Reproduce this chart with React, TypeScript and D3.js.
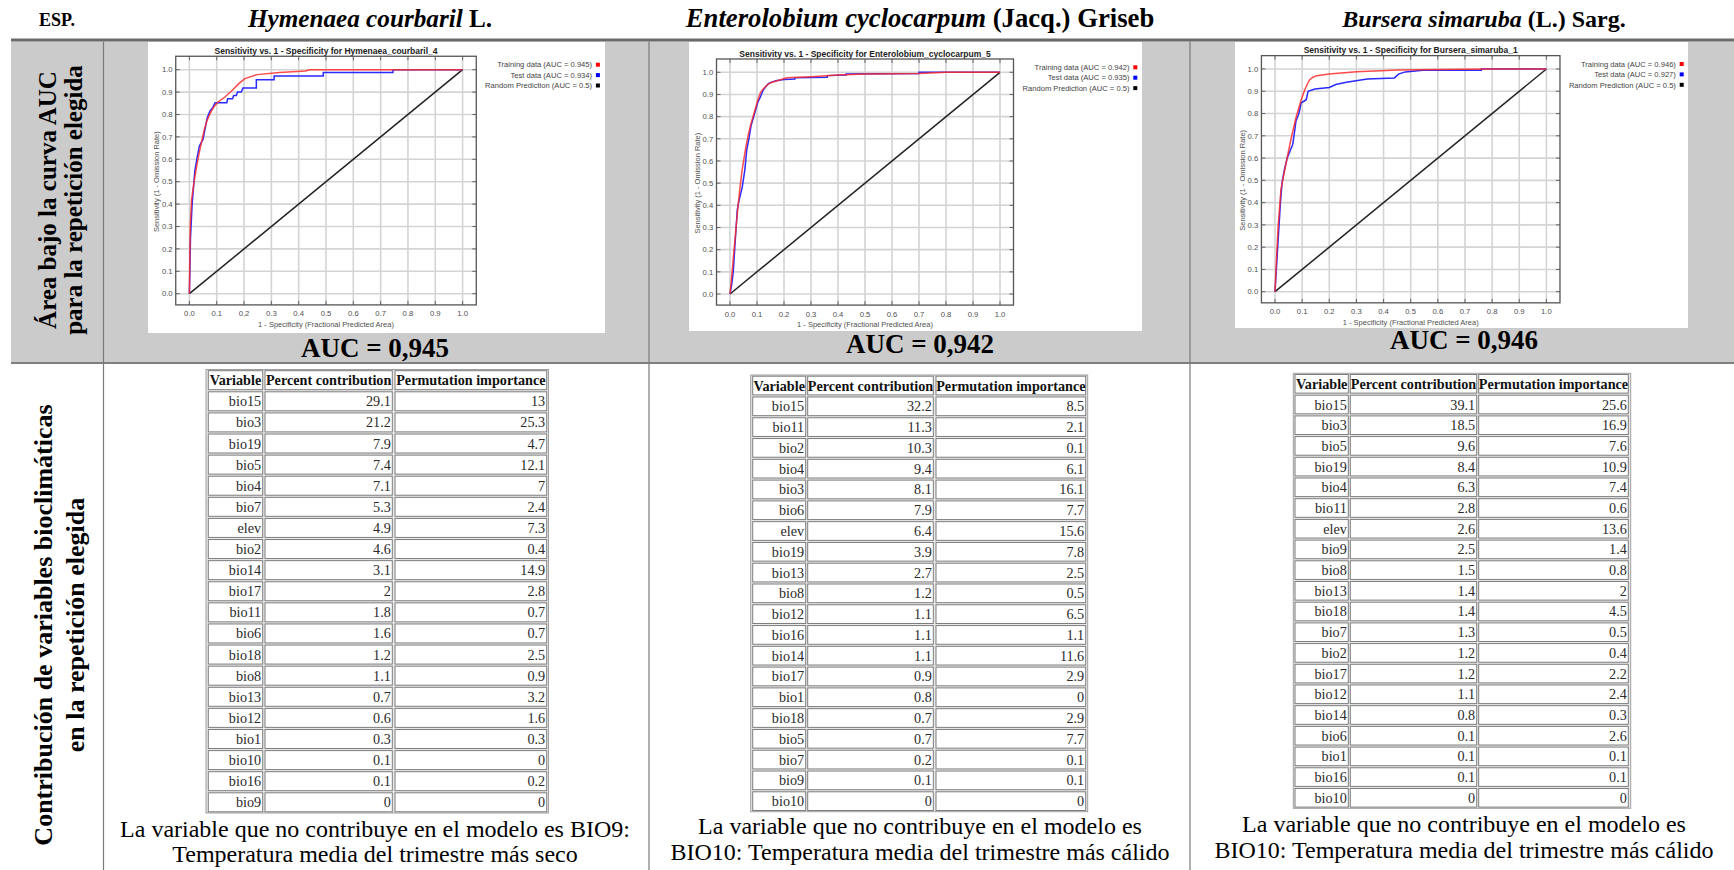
import React from "react";
import * as d3 from "d3";

const SERIF = "'Liberation Serif', 'Times New Roman', serif";
const SANS = "'Liberation Sans', Arial, sans-serif";

// column headers
const speciesItalic = ["Hymenaea courbaril", "Enterolobium cyclocarpum", "Bursera simaruba"];
const speciesAuthor = [" L.", " (Jacq.) Griseb", " (L.) Sarg."];
const runNames = ["Hymenaea_courbaril_4", "Enterolobium_cyclocarpum_5", "Bursera_simaruba_1"];
const trainAuc = ["0.945", "0.942", "0.946"];
const testAuc = ["0.934", "0.935", "0.927"];
const aucLabels = ["AUC = 0,945", "AUC = 0,942", "AUC = 0,946"];
const rowLabels = [
  ["Área bajo la curva AUC", "para la repetición elegida"],
  ["Contribución de variables bioclimáticas", "en la repetición elegida"],
];
const tableHeader = ["Variable", "Percent contribution", "Permutation importance"];

// ROC points: [1 - specificity, sensitivity]
const hymTrain: [number, number][] = [
  [0, 0], [0.003, 0.3], [0.008, 0.42], [0.016, 0.49], [0.026, 0.565], [0.036, 0.63], [0.046, 0.685],
  [0.056, 0.74], [0.065, 0.774], [0.078, 0.81], [0.09, 0.835], [0.105, 0.856], [0.13, 0.878],
  [0.157, 0.908], [0.183, 0.94], [0.203, 0.96], [0.248, 0.978], [0.33, 0.987], [0.425, 0.994],
  [0.44, 1], [1, 1],
];
const hymTest: [number, number][] = [
  [0, 0], [0.004, 0.25], [0.01, 0.4], [0.02, 0.55], [0.03, 0.62], [0.037, 0.66], [0.05, 0.69],
  [0.058, 0.74], [0.065, 0.785], [0.075, 0.815], [0.085, 0.83], [0.094, 0.853], [0.137, 0.853],
  [0.14, 0.87], [0.158, 0.87], [0.162, 0.885], [0.172, 0.885], [0.176, 0.9], [0.19, 0.9],
  [0.196, 0.918], [0.245, 0.918], [0.245, 0.955], [0.31, 0.955], [0.31, 0.972], [0.49, 0.972],
  [0.49, 0.987], [0.745, 0.987], [0.745, 1], [1, 1],
];
const entTrain: [number, number][] = [
  [0, 0], [0.008, 0.1], [0.015, 0.2], [0.024, 0.32], [0.03, 0.4], [0.037, 0.48], [0.045, 0.56],
  [0.057, 0.65], [0.068, 0.72], [0.077, 0.765], [0.09, 0.82], [0.103, 0.875], [0.113, 0.91],
  [0.123, 0.925], [0.135, 0.94], [0.15, 0.953], [0.175, 0.962], [0.21, 0.975], [0.3, 0.98],
  [0.4, 0.988], [0.5, 0.992], [0.7, 0.995], [0.8, 1], [1, 1],
];
const entTest: [number, number][] = [
  [0, 0], [0.006, 0.04], [0.012, 0.1], [0.02, 0.25], [0.027, 0.38], [0.033, 0.42], [0.045, 0.48],
  [0.055, 0.56], [0.062, 0.65], [0.07, 0.7], [0.078, 0.76], [0.09, 0.81], [0.103, 0.865],
  [0.113, 0.89], [0.123, 0.92], [0.143, 0.95], [0.17, 0.962], [0.2, 0.968], [0.24, 0.97],
  [0.24, 0.975], [0.36, 0.978], [0.36, 0.985], [0.43, 0.988], [0.43, 0.992], [0.7, 0.995],
  [0.7, 1], [1, 1],
];
const burTrain: [number, number][] = [
  [0, 0], [0.003, 0.08], [0.006, 0.16], [0.012, 0.3], [0.022, 0.46], [0.038, 0.56], [0.058, 0.68],
  [0.077, 0.78], [0.096, 0.86], [0.109, 0.905], [0.12, 0.935], [0.128, 0.952], [0.14, 0.963],
  [0.154, 0.97], [0.2, 0.978], [0.3, 0.988], [0.455, 0.996], [0.6, 0.998], [0.8, 1], [1, 1],
];
const burTest: [number, number][] = [
  [0, 0], [0.004, 0.08], [0.008, 0.16], [0.013, 0.26], [0.02, 0.4], [0.026, 0.49], [0.035, 0.55],
  [0.045, 0.6], [0.058, 0.64], [0.065, 0.66], [0.07, 0.7], [0.077, 0.765], [0.085, 0.79],
  [0.09, 0.81], [0.096, 0.847], [0.115, 0.862], [0.122, 0.9], [0.147, 0.91], [0.2, 0.917],
  [0.224, 0.93], [0.263, 0.94], [0.34, 0.955], [0.44, 0.96], [0.455, 0.977], [0.48, 0.987],
  [0.545, 0.994], [0.76, 0.994], [0.76, 1], [1, 1],
];

// variable contributions
const hymVars = ["bio15", "bio3", "bio19", "bio5", "bio4", "bio7", "elev", "bio2", "bio14", "bio17", "bio11", "bio6", "bio18", "bio8", "bio13", "bio12", "bio1", "bio10", "bio16", "bio9"];
const hymPct = [29.1, 21.2, 7.9, 7.4, 7.1, 5.3, 4.9, 4.6, 3.1, 2, 1.8, 1.6, 1.2, 1.1, 0.7, 0.6, 0.3, 0.1, 0.1, 0];
const hymPerm = [13, 25.3, 4.7, 12.1, 7, 2.4, 7.3, 0.4, 14.9, 2.8, 0.7, 0.7, 2.5, 0.9, 3.2, 1.6, 0.3, 0, 0.2, 0];

const entVars = ["bio15", "bio11", "bio2", "bio4", "bio3", "bio6", "elev", "bio19", "bio13", "bio8", "bio12", "bio16", "bio14", "bio17", "bio1", "bio18", "bio5", "bio7", "bio9", "bio10"];
const entPct = [32.2, 11.3, 10.3, 9.4, 8.1, 7.9, 6.4, 3.9, 2.7, 1.2, 1.1, 1.1, 1.1, 0.9, 0.8, 0.7, 0.7, 0.2, 0.1, 0];
const entPerm = [8.5, 2.1, 0.1, 6.1, 16.1, 7.7, 15.6, 7.8, 2.5, 0.5, 6.5, 1.1, 11.6, 2.9, 0, 2.9, 7.7, 0.1, 0.1, 0];

const burVars = ["bio15", "bio3", "bio5", "bio19", "bio4", "bio11", "elev", "bio9", "bio8", "bio13", "bio18", "bio7", "bio2", "bio17", "bio12", "bio14", "bio6", "bio1", "bio16", "bio10"];
const burPct = [39.1, 18.5, 9.6, 8.4, 6.3, 2.8, 2.6, 2.5, 1.5, 1.4, 1.4, 1.3, 1.2, 1.2, 1.1, 0.8, 0.1, 0.1, 0.1, 0];
const burPerm = [25.6, 16.9, 7.6, 10.9, 7.4, 0.6, 13.6, 1.4, 0.8, 2, 4.5, 0.5, 0.4, 2.2, 2.4, 0.3, 2.6, 0.1, 0.1, 0];

const notes = [
  ["La variable que no contribuye en el modelo es BIO9:", "Temperatura media del trimestre más seco"],
  ["La variable que no contribuye en el modelo es", "BIO10: Temperatura media del trimestre más cálido"],
  ["La variable que no contribuye en el modelo es", "BIO10: Temperatura media del trimestre más cálido"],
];

const curves = [[hymTrain, hymTest], [entTrain, entTest], [burTrain, burTest]];
const tables = [[hymVars, hymPct, hymPerm], [entVars, entPct, entPerm], [burVars, burPct, burPerm]];

// page layout (pixels)
const W = 1734;
const H = 870;
const ruleX = [103.5, 649, 1190];
const panels = [
  {
    cx: 375, titleX: 370, titleSize: 25.2, img: [148, 42, 457, 291], xr: [189.4, 462.6], yr: [293.7, 69.7], aucY: 357,
    tb: { l: 206, t: 369.5, r: 548.5, b: 813, edges: [208.3, 262.7, 265, 392.3, 395, 546.7] }, noteY: 836.5,
  },
  {
    cx: 920, titleX: 920, titleSize: 26.7, img: [689, 42, 453, 289], xr: [730, 1000], yr: [294, 72.3], aucY: 353,
    tb: { l: 750.7, t: 375, r: 1087.7, b: 811.7, edges: [752.7, 805.7, 807.7, 933.3, 936, 1085.7] }, noteY: 834,
  },
  {
    cx: 1464, titleX: 1484, titleSize: 24, img: [1235, 42, 453, 286], xr: [1275, 1546.4], yr: [291.7, 69], aucY: 349,
    tb: { l: 1293.3, t: 373.3, r: 1630.7, b: 808.3, edges: [1295, 1348.3, 1350.3, 1476.7, 1478.7, 1628.3] }, noteY: 832,
  },
];

function Roc({ p, train, test, name, trAuc, teAuc }: any) {
  const [ix, iy, iw, ih] = p.img;
  const x = d3.scaleLinear().domain([0, 1]).range(p.xr);
  const y = d3.scaleLinear().domain([0, 1]).range(p.yr);
  const fx0 = x(-0.05), fx1 = x(1.05), fyB = y(-0.05), fyT = y(1.06);
  const line = d3.line<[number, number]>().x(d => x(d[0])).y(d => y(d[1]));
  const ticks = x.ticks(10);
  const fmt = d3.format(".1f");
  const legend = [
    [`Training data (AUC = ${trAuc})`, "#ff0000"],
    [`Test data (AUC = ${teAuc})`, "#0000ff"],
    ["Random Prediction (AUC = 0.5)", "#000000"],
  ];
  const midY = (y(0) + y(1)) / 2;
  return (
    <g>
      <rect x={ix} y={iy} width={iw} height={ih} fill="#fff" />
      <text x={(x(0) + x(1)) / 2} y={y(1) - 15.8} textAnchor="middle" fontFamily={SANS} fontWeight="bold" fontSize={8.5} fill="#222">
        {`Sensitivity vs. 1 - Specificity for ${name}`}
      </text>
      {ticks.map(t => (
        <g key={t}>
          <line x1={x(t)} x2={x(t)} y1={fyT} y2={fyB} stroke="#d4d4d4" strokeWidth={1.6} />
          <line x1={fx0} x2={fx1} y1={y(t)} y2={y(t)} stroke="#d4d4d4" strokeWidth={1.6} />
          <line x1={x(t)} x2={x(t)} y1={fyT} y2={fyT + 4} stroke="#666" />
          <line x1={x(t)} x2={x(t)} y1={fyB} y2={fyB - 4} stroke="#666" />
          <line x1={fx0} x2={fx0 + 4} y1={y(t)} y2={y(t)} stroke="#666" />
          <line x1={fx1} x2={fx1 - 4} y1={y(t)} y2={y(t)} stroke="#666" />
          <text x={x(0) - 16.8} y={y(t) + 2.7} textAnchor="end" fontFamily={SANS} fontSize={7.7} fill="#505050">{fmt(t)}</text>
          <text x={x(t)} y={y(0) + 22.7} textAnchor="middle" fontFamily={SANS} fontSize={7.7} fill="#505050">{fmt(t)}</text>
        </g>
      ))}
      <rect x={fx0} y={fyT} width={fx1 - fx0} height={fyB - fyT} fill="none" stroke="#555" strokeWidth={1.3} />
      <text x={(x(0) + x(1)) / 2} y={y(0) + 33.3} textAnchor="middle" fontFamily={SANS} fontSize={7.5} fill="#505050">
        1 - Specificity  (Fractional Predicted Area)
      </text>
      <text transform={`translate(${x(0) - 30},${midY}) rotate(-90)`} textAnchor="middle" fontFamily={SANS} fontSize={7.5} fill="#505050">
        Sensitivity  (1 - Omission Rate)
      </text>
      <path d={line([[0, 0], [1, 1]]) as string} fill="none" stroke="#222" strokeWidth={1.5} />
      <path d={line(test) as string} fill="none" stroke="#2a2aff" strokeWidth={1.5} />
      <path d={line(train) as string} fill="none" stroke="#ff2a2a" strokeOpacity={0.85} strokeWidth={1.5} />
      {legend.map(([label, c], i) => (
        <g key={label}>
          <text x={x(1) + 129.5} y={y(1) - 2.3 + i * 10.4} textAnchor="end" fontFamily={SANS} fontSize={7.6} fill="#444">{label}</text>
          <rect x={x(1) + 133.3} y={y(1) - 7 + i * 10.4} width={4} height={4} fill={c} />
        </g>
      ))}
    </g>
  );
}

function VarTable({ tb, vars, pct, perm }: any) {
  const rows = [tableHeader, ...vars.map((v: string, i: number) => [v, String(pct[i]), String(perm[i])])];
  const band = d3.scaleBand().domain(rows.map((_: any, i: number) => String(i))).range([tb.t + 1.2, tb.b - 1.2]).paddingInner(0.1);
  const bh = band.bandwidth();
  const e = tb.edges;
  const cols = [[e[0], e[1]], [e[2], e[3]], [e[4], e[5]]];
  return (
    <g>
      <rect x={tb.l} y={tb.t} width={tb.r - tb.l} height={tb.b - tb.t} fill="#e9e9e9" stroke="#a0a0a0" strokeWidth={1} />
      {rows.map((r: string[], i: number) => (
        <g key={i}>
          {cols.map(([a, b], j) => (
            <g key={j}>
              <rect x={a} y={band(String(i))} width={b - a} height={bh} fill="#fff" stroke="#7d7d7d" strokeWidth={1} />
              <text
                x={i === 0 ? (a + b) / 2 : b - 1.5}
                y={(band(String(i)) as number) + bh / 2 + 5}
                textAnchor={i === 0 ? "middle" : "end"}
                fontFamily={SERIF}
                fontSize={14.2}
                fontWeight={i === 0 ? "bold" : "normal"}
                fill={i === 0 ? "#111" : "#2a2a2a"}
              >
                {r[j]}
              </text>
            </g>
          ))}
        </g>
      ))}
    </g>
  );
}

export default function App() {
  return (
    <svg width={W} height={H} style={{ position: "absolute", left: 0, top: 0, background: "#fff" }}>
      {/* header row */}
      <text x={57} y={25.5} textAnchor="middle" fontFamily={SERIF} fontWeight="bold" fontSize={18}>ESP.</text>
      {panels.map((p, i) => (
        <text key={i} x={p.titleX} y={27} textAnchor="middle" fontFamily={SERIF} fontWeight="bold" fontSize={p.titleSize}>
          <tspan fontStyle="italic">{speciesItalic[i]}</tspan>
          <tspan>{speciesAuthor[i]}</tspan>
        </text>
      ))}

      {/* AUC row background and rules */}
      <rect x={11} y={41.5} width={W - 11} height={321} fill="#cbcbcb" />
      <line x1={11} x2={W} y1={40} y2={40} stroke="#6a6a6a" strokeWidth={3} />
      <line x1={11} x2={W} y1={363} y2={363} stroke="#7f7f7f" strokeWidth={2} />
      {ruleX.map(rx => (
        <line key={rx} x1={rx} x2={rx} y1={41.5} y2={H} stroke="#7a7a7a" strokeWidth={1.2} />
      ))}

      {/* row labels */}
      {[200, 625].map((cy, k) => (
        <g key={k}>
          {rowLabels[k].map((s, j) => (
            <text
              key={j}
              transform={`translate(${k === 0 ? (j === 0 ? 56 : 82) : (j === 0 ? 52 : 84)},${cy}) rotate(-90)`}
              textAnchor="middle"
              fontFamily={SERIF}
              fontWeight="bold"
              fontSize={k === 0 ? 25 : 26}
            >
              {s}
            </text>
          ))}
        </g>
      ))}

      {panels.map((p, i) => (
        <g key={i}>
          <Roc p={p} train={curves[i][0]} test={curves[i][1]} name={runNames[i]} trAuc={trainAuc[i]} teAuc={testAuc[i]} />
          <text x={p.cx} y={p.aucY} textAnchor="middle" fontFamily={SERIF} fontWeight="bold" fontSize={27}>{aucLabels[i]}</text>
          <VarTable tb={p.tb} vars={tables[i][0]} pct={tables[i][1]} perm={tables[i][2]} />
          {notes[i].map((s, j) => (
            <text key={j} x={p.cx} y={p.noteY + j * 25.5} textAnchor="middle" fontFamily={SERIF} fontSize={24}>{s}</text>
          ))}
        </g>
      ))}
    </svg>
  );
}
